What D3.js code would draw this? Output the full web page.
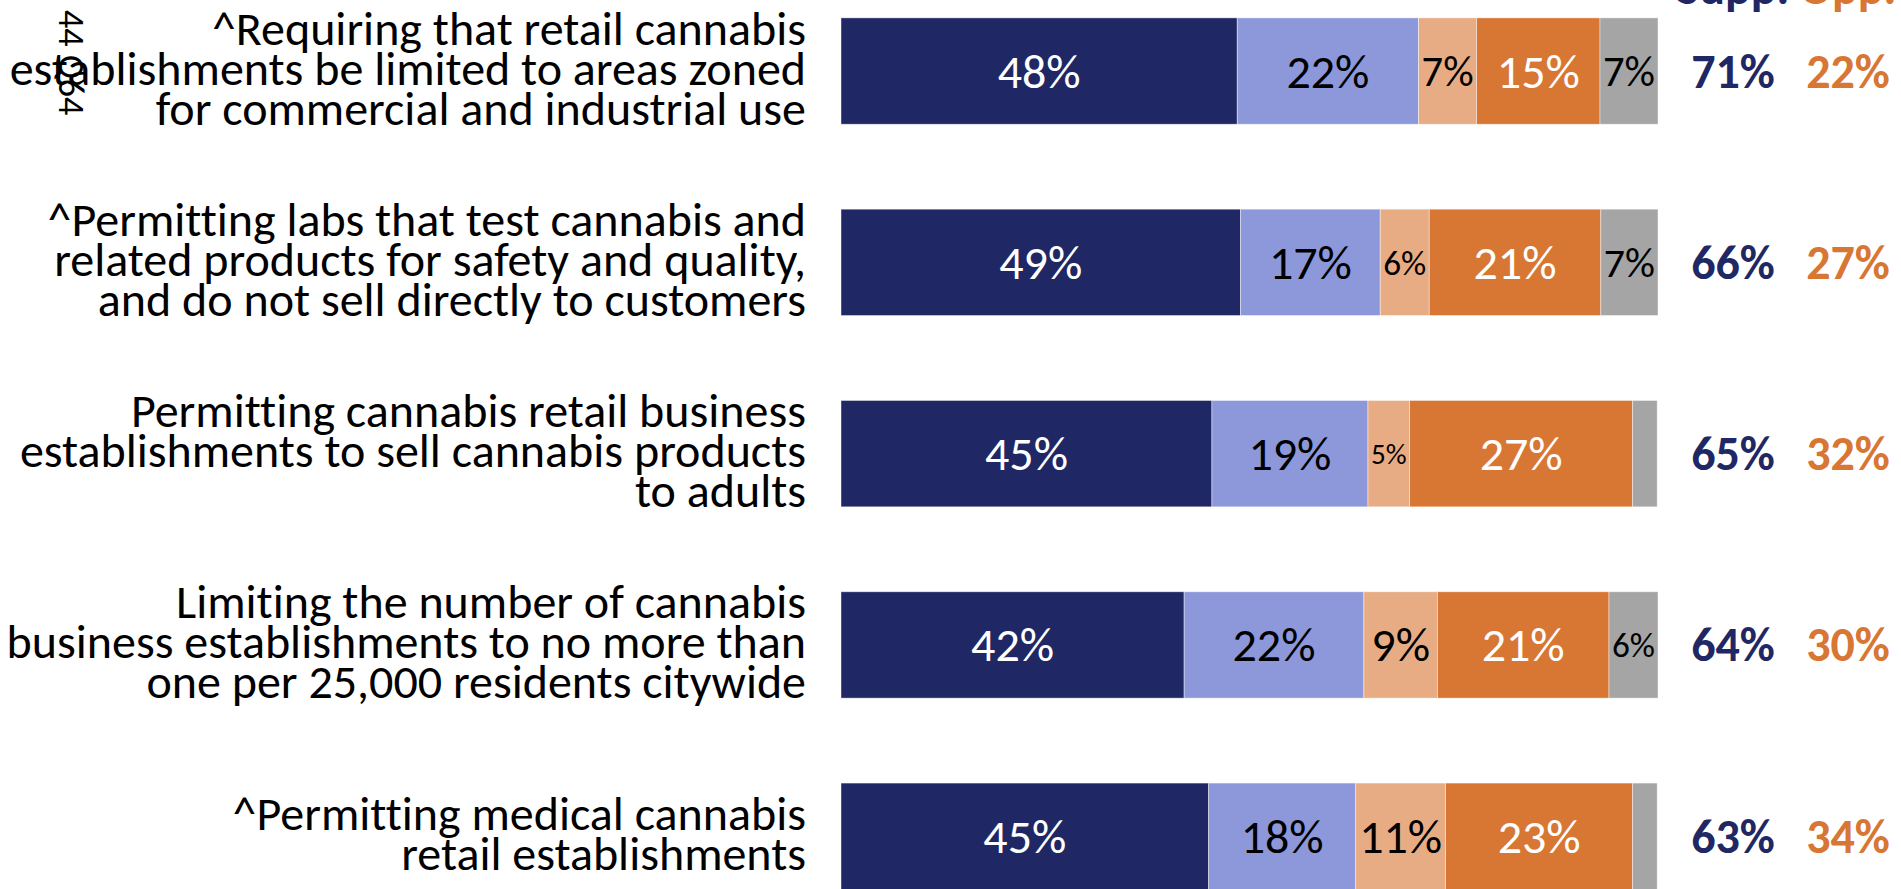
<!DOCTYPE html>
<html>
<head>
<meta charset="utf-8">
<script src="https://cdn.jsdelivr.net/npm/d3@7"></script>
<style>
  html, body { margin: 0; padding: 0; background: #fff; overflow: hidden; }
  svg { display: block; }
  text { font-family: Carlito, Calibri, Lato, "Noto Sans", sans-serif; font-variant-ligatures: none; }
</style>
</head>
<body>
<svg id="chart" width="1901" height="889"></svg>
<script>
// ---- data ----
const categories = [
  ["^Requiring that retail cannabis", "establishments be limited to areas zoned", "for commercial and industrial use"],
  ["^Permitting labs that test cannabis and", "related products for safety and quality,", "and do not sell directly to customers"],
  ["Permitting cannabis retail business", "establishments to sell cannabis products", "to adults"],
  ["Limiting the number of cannabis", "business establishments to no more than", "one per 25,000 residents citywide"],
  ["^Permitting medical cannabis", "retail establishments"]
];
const seriesNames = ["Strongly support", "Somewhat support", "Somewhat oppose", "Strongly oppose", "Don't know"];
const strongSupport   = [48.5, 48.9, 45.4, 42.0, 45.0];
const somewhatSupport = [22.2, 17.1, 19.1, 22.0, 18.0];
const somewhatOppose  = [7.1, 6.0, 5.1, 9.0, 11.0];
const strongOppose    = [15.1, 21.0, 27.3, 21.0, 22.9];
const dontKnow        = [7.1, 7.0, 3.0, 6.0, 3.0];
const strongSupportLabels   = [48, 49, 45, 42, 45];
const somewhatSupportLabels = [22, 17, 19, 22, 18];
const somewhatOpposeLabels  = [7, 6, 5, 9, 11];
const strongOpposeLabels    = [15, 21, 27, 21, 23];
const dontKnowLabels        = [7, 7, null, 6, null];
const totalSupport = [71, 66, 65, 64, 63];
const totalOppose  = [22, 27, 32, 30, 34];
const columnHeaders = ["Supp.", "Opp."];
const slideNote = "44 Q64";

// ---- styles ----
const colors = ["#1F2864", "#8C98DA", "#E8AC84", "#D87633", "#A5A5A5"];
const labelColors = ["#ffffff", "#000000", "#000000", "#ffffff", "#000000"];
const navy = "#1F2864", orange = "#D87633";
const catFont = 48;
const segFont = 48;
const totFont = 48;

const svg = d3.select("#chart");

const seriesVals = [strongSupport, somewhatSupport, somewhatOppose, strongOppose, dontKnow];
const seriesLbls = [strongSupportLabels, somewhatSupportLabels, somewhatOpposeLabels, strongOpposeLabels, dontKnowLabels];

const rows = categories.map((c, i) => {
  const r = { idx: i };
  seriesNames.forEach((s, j) => r[s] = seriesVals[j][i]);
  return r;
});
const stacked = d3.stack().keys(seriesNames)(rows);

const x = d3.scaleLinear().domain([0, 100]).range([841, 1658]);
const y = d3.scaleBand().domain(d3.range(categories.length))
  .range([-24.6, 931.9]).paddingInner(0.444).paddingOuter(0.222);

// bars
const layers = svg.append("g").selectAll("g").data(stacked).join("g")
  .attr("fill", (d, j) => colors[j]);

layers.selectAll("rect").data(d => d).join("rect")
  .attr("x", d => x(d[0]))
  .attr("y", (d, i) => y(i))
  .attr("width", d => x(d[1]) - x(d[0]))
  .attr("height", y.bandwidth())
  .attr("stroke", "#ffffff")
  .attr("stroke-opacity", 0.55)
  .attr("stroke-width", 0.8);

// segment labels
stacked.forEach((layer, j) => {
  layer.forEach((d, i) => {
    const lbl = seriesLbls[j][i];
    if (lbl == null) return;
    const w = x(d[1]) - x(d[0]);
    const t = svg.append("text")
      .attr("x", (x(d[0]) + x(d[1])) / 2)
      .attr("y", y(i) + y.bandwidth() / 2)
      .attr("text-anchor", "middle")
      .attr("dominant-baseline", "central")
      .attr("fill", labelColors[j])
      .style("font-size", segFont + "px")
      .text(lbl + "%");
    const tw = t.node().getComputedTextLength();
    if (tw > w - 4) {
      t.style("font-size", (segFont * (w - 6) / tw) + "px");
    }
  });
});

// category labels
const lineGap = 40;
categories.forEach((lines, i) => {
  const cy = y(i) + y.bandwidth() / 2 - 3;
  const n = lines.length;
  lines.forEach((line, k) => {
    svg.append("text")
      .attr("x", 806)
      .attr("y", cy + (k - (n - 1) / 2) * lineGap)
      .attr("text-anchor", "end")
      .attr("dominant-baseline", "central")
      .attr("fill", "#000")
      .style("font-size", catFont + "px")
      .text(line);
  });
});

// totals
const colX = [1733, 1848];
const totals = [totalSupport, totalOppose];
const totColors = [navy, orange];
totals.forEach((arr, c) => {
  svg.append("g").selectAll("text").data(arr).join("text")
    .attr("x", colX[c])
    .attr("y", (d, i) => y(i) + y.bandwidth() / 2)
    .attr("text-anchor", "middle")
    .attr("dominant-baseline", "central")
    .attr("fill", totColors[c])
    .style("font-size", totFont + "px")
    .style("font-weight", "bold")
    .text(d => d + "%");
  svg.append("text")
    .attr("x", colX[c])
    .attr("y", 4)
    .attr("text-anchor", "middle")
    .attr("fill", totColors[c])
    .style("font-size", totFont + "px")
    .style("font-weight", "bold")
    .text(columnHeaders[c]);
});

// rotated slide note
svg.append("text")
  .attr("transform", "translate(71,10) rotate(90)")
  .attr("text-anchor", "start")
  .attr("dominant-baseline", "central")
  .attr("fill", "#000")
  .style("font-size", "36px")
  .text(slideNote);
</script>
</body>
</html>
